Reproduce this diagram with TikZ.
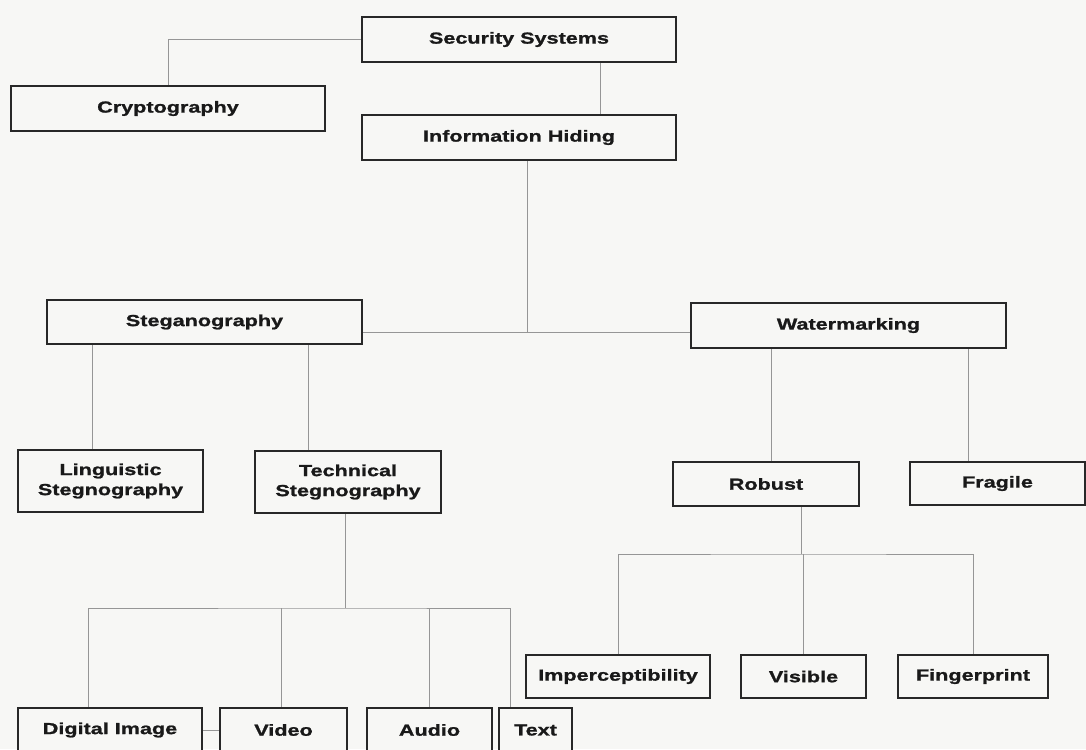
\documentclass[tikz,border=0pt]{standalone}
\usepackage{fontspec}
\newfontfamily\boxfont[FakeStretch=1.35,FakeBold=1.2]{Liberation Sans}
\definecolor{bgpaper}{RGB}{247,247,245}
\definecolor{boxline}{RGB}{40,40,40}
\definecolor{linkline}{RGB}{150,150,150}
\begin{document}
\begin{tikzpicture}[x=1pt,y=-1pt,
    box/.style={draw=boxline,line width=1.6pt,fill=bgpaper,text=black!90,
      font=\boxfont\bfseries\fontsize{16}{20}\selectfont,
      inner sep=0pt,align=center,minimum height=45},
    link/.style={draw=linkline,line width=0.9pt}]
  \useasboundingbox (0,0) rectangle (1086,749);
  \clip (0,0) rectangle (1086,749);
  \fill[bgpaper] (0,0) rectangle (1086,749);
  \path
    (519,39.5) node[box,minimum width=314] (sec) {Security Systems}
    (168,108.5) node[box,minimum width=314] (cry) {Cryptography}
    (519,137.5) node[box,minimum width=314] (inf) {Information Hiding}
    (204.5,322) node[box,minimum width=315,minimum height=44] (steg) {Steganography}
    (848.5,325.5) node[box,minimum width=315] (wat) {Watermarking}
    (110.5,481) node[box,minimum width=185,minimum height=62] (ling) {Linguistic\\Stegnography}
    (348,482) node[box,minimum width=186,minimum height=62] (tech) {Technical\\Stegnography}
    (766,484) node[box,minimum width=186,minimum height=44] (rob) {Robust}
    (997.5,483.5) node[box,minimum width=175,minimum height=43] (fra) {Fragile}
    (618,676.5) node[box,minimum width=184,minimum height=43] (imp) {Imperceptibility}
    (803.5,676.5) node[box,minimum width=125,minimum height=43] (vis) {Visible}
    (973,676.5) node[box,minimum width=150,minimum height=43] (fin) {Fingerprint}
    (110,730) node[box,minimum width=184,minimum height=44] (dig) {Digital Image}
    (283.5,730) node[box,minimum width=127,minimum height=44] (vid) {Video}
    (429.5,730) node[box,minimum width=125,minimum height=44] (aud) {Audio}
    (535.5,730) node[box,minimum width=73,minimum height=44] (txt) {Text};
  \coordinate (join) at (527,332);
  \coordinate (rbar) at (801,554);
  \coordinate (tbar) at (345,608);
  \begin{scope}[link]
    \draw (sec.west) -| (cry.north);
    \draw ([xshift=81]sec.south) -- ([xshift=81]inf.north);
    \draw ([xshift=8]inf.south) -- (join);
    \draw (steg.east |- join) -- (wat.west |- join);
    \draw ([xshift=-18.5]ling.north) -- ([xshift=-18.5]ling.north |- steg.south);
    \draw ([xshift=-40]tech.north) -- ([xshift=-40]tech.north |- steg.south);
    \draw ([xshift=5]rob.north) -- ([xshift=5]rob.north |- wat.south);
    \draw ([xshift=-29]fra.north) -- ([xshift=-29]fra.north |- wat.south);
    \draw ([xshift=35]rob.south) -- (rbar);
    \draw (imp.north) |- (rbar) -| (fin.north);
    \draw (vis.north) -- (vis.north |- rbar);
    \draw ([xshift=-3]tech.south) -- (tbar);
    \draw ([xshift=-22]dig.north) |- (tbar) -| ([xshift=-25.5]txt.north);
    \draw ([xshift=-2.5]vid.north) -- ([xshift=-2.5]vid.north |- tbar);
    \draw (aud.north) -- (aud.north |- tbar);
    \draw (dig.east) -- (vid.west);
  \end{scope}
\end{tikzpicture}
\end{document}
